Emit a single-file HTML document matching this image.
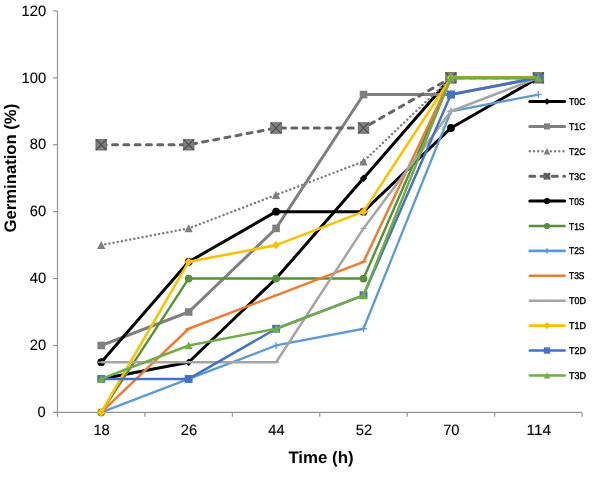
<!DOCTYPE html><html><head><meta charset="utf-8"><style>html,body{margin:0;padding:0;background:#fff;width:598px;height:479px;overflow:hidden}svg{display:block;will-change:transform}text{font-family:"Liberation Sans",sans-serif;text-rendering:geometricPrecision}</style></head><body>
<svg width="598" height="479" viewBox="0 0 598 479">
<rect width="598" height="479" fill="#fff"/>
<g stroke="#959595" stroke-width="1.2" fill="none">
<path d="M57.5 10.9V416.7"/>
<path d="M53.0 412.4H582.1"/>
<path d="M53.0 345.48H57.5"/>
<path d="M53.0 278.57H57.5"/>
<path d="M53.0 211.65H57.5"/>
<path d="M53.0 144.73H57.5"/>
<path d="M53.0 77.82H57.5"/>
<path d="M53.0 10.90H57.5"/>
<path d="M144.93 412.4V416.7"/>
<path d="M232.37 412.4V416.7"/>
<path d="M319.80 412.4V416.7"/>
<path d="M407.23 412.4V416.7"/>
<path d="M494.67 412.4V416.7"/>
<path d="M582.10 412.4V416.7"/>
</g>
<g font-size="15.0" fill="#000" stroke="#000" stroke-width="0.12" text-anchor="end">
<text x="45.60" y="417.10" textLength="8.20" lengthAdjust="spacingAndGlyphs">0</text>
<text x="46.20" y="350.18" textLength="16.40" lengthAdjust="spacingAndGlyphs">20</text>
<text x="46.20" y="283.27" textLength="16.40" lengthAdjust="spacingAndGlyphs">40</text>
<text x="46.20" y="216.35" textLength="16.40" lengthAdjust="spacingAndGlyphs">60</text>
<text x="46.20" y="149.43" textLength="16.40" lengthAdjust="spacingAndGlyphs">80</text>
<text x="46.20" y="82.52" textLength="24.60" lengthAdjust="spacingAndGlyphs">100</text>
<text x="46.20" y="15.60" textLength="24.60" lengthAdjust="spacingAndGlyphs">120</text>
</g>
<g font-size="15.0" fill="#000" stroke="#000" stroke-width="0.12" text-anchor="middle">
<text x="101.62" y="435.3" textLength="16.40" lengthAdjust="spacingAndGlyphs">18</text>
<text x="189.05" y="435.3" textLength="16.40" lengthAdjust="spacingAndGlyphs">26</text>
<text x="276.48" y="435.3" textLength="16.40" lengthAdjust="spacingAndGlyphs">44</text>
<text x="363.92" y="435.3" textLength="16.40" lengthAdjust="spacingAndGlyphs">52</text>
<text x="451.35" y="435.3" textLength="16.40" lengthAdjust="spacingAndGlyphs">70</text>
<text x="538.78" y="435.3" textLength="24.60" lengthAdjust="spacingAndGlyphs">114</text>
</g>
<text x="321.0" y="463.4" font-size="16.6" font-weight="bold" text-anchor="middle" textLength="65.2" lengthAdjust="spacingAndGlyphs">Time (h)</text>
<text transform="translate(15.7 168.1) rotate(-90)" font-size="16.6" font-weight="bold" text-anchor="middle" textLength="128.6" lengthAdjust="spacingAndGlyphs">Germination (%)</text>
<polyline points="101.22,378.94 188.65,362.21 276.08,278.57 363.52,178.19 450.95,77.82 538.38,77.82" fill="none" stroke="#000000" stroke-width="3.0" stroke-linejoin="round"/>
<path d="M101.22 375.19L104.97 378.94L101.22 382.69L97.47 378.94Z" fill="#000000"/>
<path d="M188.65 358.46L192.40 362.21L188.65 365.96L184.90 362.21Z" fill="#000000"/>
<path d="M276.08 274.82L279.83 278.57L276.08 282.32L272.33 278.57Z" fill="#000000"/>
<path d="M363.52 174.44L367.27 178.19L363.52 181.94L359.77 178.19Z" fill="#000000"/>
<path d="M450.95 74.07L454.70 77.82L450.95 81.57L447.20 77.82Z" fill="#000000"/>
<path d="M538.38 74.07L542.13 77.82L538.38 81.57L534.63 77.82Z" fill="#000000"/>
<polyline points="101.22,345.48 188.65,312.02 276.08,228.38 363.52,94.55 450.95,94.55 538.38,77.82" fill="none" stroke="#7f7f7f" stroke-width="3.0" stroke-linejoin="round"/>
<rect x="97.42" y="341.68" width="7.60" height="7.60" fill="#7f7f7f"/>
<rect x="184.85" y="308.22" width="7.60" height="7.60" fill="#7f7f7f"/>
<rect x="272.28" y="224.58" width="7.60" height="7.60" fill="#7f7f7f"/>
<rect x="359.72" y="90.75" width="7.60" height="7.60" fill="#7f7f7f"/>
<rect x="447.15" y="90.75" width="7.60" height="7.60" fill="#7f7f7f"/>
<rect x="534.58" y="74.02" width="7.60" height="7.60" fill="#7f7f7f"/>
<polyline points="101.22,245.11 188.65,228.38 276.08,194.92 363.52,161.46 450.95,77.82 538.38,77.82" fill="none" stroke="#808080" stroke-width="2.5" stroke-linejoin="round" stroke-dasharray="0.01 4.2" stroke-linecap="round"/>
<path d="M101.22 240.91L105.42 249.10L97.02 249.10Z" fill="#7f7f7f"/>
<path d="M188.65 224.18L192.85 232.37L184.45 232.37Z" fill="#7f7f7f"/>
<path d="M276.08 190.72L280.28 198.91L271.88 198.91Z" fill="#7f7f7f"/>
<path d="M363.52 157.26L367.72 165.45L359.32 165.45Z" fill="#7f7f7f"/>
<path d="M450.95 73.62L455.15 81.81L446.75 81.81Z" fill="#7f7f7f"/>
<path d="M538.38 73.62L542.58 81.81L534.18 81.81Z" fill="#7f7f7f"/>
<polyline points="101.22,144.73 188.65,144.73 276.08,128.00 363.52,128.00 450.95,77.82 538.38,77.82" fill="none" stroke="#666666" stroke-width="3.0" stroke-linejoin="round" stroke-dasharray="5.0 6.3" stroke-linecap="round"/>
<rect x="95.92" y="139.43" width="10.60" height="10.60" fill="#7f7f7f" stroke="#6a6a6a" stroke-width="0.8"/><path d="M95.92 139.43L106.52 150.03M106.52 139.43L95.92 150.03" stroke="#4d4d4d" stroke-width="1.2"/>
<rect x="183.35" y="139.43" width="10.60" height="10.60" fill="#7f7f7f" stroke="#6a6a6a" stroke-width="0.8"/><path d="M183.35 139.43L193.95 150.03M193.95 139.43L183.35 150.03" stroke="#4d4d4d" stroke-width="1.2"/>
<rect x="270.78" y="122.70" width="10.60" height="10.60" fill="#7f7f7f" stroke="#6a6a6a" stroke-width="0.8"/><path d="M270.78 122.70L281.38 133.30M281.38 122.70L270.78 133.30" stroke="#4d4d4d" stroke-width="1.2"/>
<rect x="358.22" y="122.70" width="10.60" height="10.60" fill="#7f7f7f" stroke="#6a6a6a" stroke-width="0.8"/><path d="M358.22 122.70L368.82 133.30M368.82 122.70L358.22 133.30" stroke="#4d4d4d" stroke-width="1.2"/>
<rect x="445.65" y="72.52" width="10.60" height="10.60" fill="#7f7f7f" stroke="#6a6a6a" stroke-width="0.8"/><path d="M445.65 72.52L456.25 83.12M456.25 72.52L445.65 83.12" stroke="#4d4d4d" stroke-width="1.2"/>
<rect x="533.08" y="72.52" width="10.60" height="10.60" fill="#7f7f7f" stroke="#6a6a6a" stroke-width="0.8"/><path d="M533.08 72.52L543.68 83.12M543.68 72.52L533.08 83.12" stroke="#4d4d4d" stroke-width="1.2"/>
<polyline points="101.22,362.21 188.65,261.84 276.08,211.65 363.52,211.65 450.95,128.00 538.38,77.82" fill="none" stroke="#000000" stroke-width="3.0" stroke-linejoin="round"/>
<circle cx="101.22" cy="362.21" r="3.90" fill="#000000"/>
<circle cx="188.65" cy="261.84" r="3.90" fill="#000000"/>
<circle cx="276.08" cy="211.65" r="3.90" fill="#000000"/>
<circle cx="363.52" cy="211.65" r="3.90" fill="#000000"/>
<circle cx="450.95" cy="128.00" r="3.90" fill="#000000"/>
<circle cx="538.38" cy="77.82" r="3.90" fill="#000000"/>
<polyline points="101.22,412.40 188.65,278.57 276.08,278.57 363.52,278.57 450.95,77.82 538.38,77.82" fill="none" stroke="#56913a" stroke-width="2.4" stroke-linejoin="round"/>
<circle cx="101.22" cy="412.40" r="3.90" fill="#56913a"/>
<circle cx="188.65" cy="278.57" r="3.90" fill="#56913a"/>
<circle cx="276.08" cy="278.57" r="3.90" fill="#56913a"/>
<circle cx="363.52" cy="278.57" r="3.90" fill="#56913a"/>
<circle cx="450.95" cy="77.82" r="3.90" fill="#56913a"/>
<circle cx="538.38" cy="77.82" r="3.90" fill="#56913a"/>
<polyline points="101.22,412.40 188.65,378.94 276.08,345.48 363.52,328.75 450.95,111.27 538.38,94.55" fill="none" stroke="#5b9bd5" stroke-width="2.3" stroke-linejoin="round"/>
<path d="M97.77 412.40H104.67M101.22 408.95V415.85" stroke="#5b9bd5" stroke-width="1.3"/>
<path d="M185.20 378.94H192.10M188.65 375.49V382.39" stroke="#5b9bd5" stroke-width="1.3"/>
<path d="M272.63 345.48H279.53M276.08 342.03V348.93" stroke="#5b9bd5" stroke-width="1.3"/>
<path d="M360.07 328.75H366.97M363.52 325.30V332.20" stroke="#5b9bd5" stroke-width="1.3"/>
<path d="M447.50 111.27H454.40M450.95 107.82V114.72" stroke="#5b9bd5" stroke-width="1.3"/>
<path d="M534.93 94.55H541.83M538.38 91.10V98.00" stroke="#5b9bd5" stroke-width="1.3"/>
<polyline points="101.22,412.40 188.65,328.75 276.08,295.30 363.52,261.84 450.95,77.82 538.38,77.82" fill="none" stroke="#ed7d31" stroke-width="2.5" stroke-linejoin="round"/>
<path d="M98.22 412.40H104.22" stroke="#ed7d31" stroke-width="1.5"/>
<path d="M185.65 328.75H191.65" stroke="#ed7d31" stroke-width="1.5"/>
<path d="M273.08 295.30H279.08" stroke="#ed7d31" stroke-width="1.5"/>
<path d="M360.52 261.84H366.52" stroke="#ed7d31" stroke-width="1.5"/>
<path d="M447.95 77.82H453.95" stroke="#ed7d31" stroke-width="1.5"/>
<path d="M535.38 77.82H541.38" stroke="#ed7d31" stroke-width="1.5"/>
<polyline points="101.22,362.21 188.65,362.21 276.08,362.21 363.52,228.38 450.95,111.27 538.38,77.82" fill="none" stroke="#a5a5a5" stroke-width="2.5" stroke-linejoin="round"/>
<path d="M98.22 362.21H104.22" stroke="#a5a5a5" stroke-width="1.5"/>
<path d="M185.65 362.21H191.65" stroke="#a5a5a5" stroke-width="1.5"/>
<path d="M273.08 362.21H279.08" stroke="#a5a5a5" stroke-width="1.5"/>
<path d="M360.52 228.38H366.52" stroke="#a5a5a5" stroke-width="1.5"/>
<path d="M447.95 111.27H453.95" stroke="#a5a5a5" stroke-width="1.5"/>
<path d="M535.38 77.82H541.38" stroke="#a5a5a5" stroke-width="1.5"/>
<polyline points="101.22,412.40 188.65,261.84 276.08,245.11 363.52,211.65 450.95,77.82 538.38,77.82" fill="none" stroke="#ffc000" stroke-width="2.6" stroke-linejoin="round"/>
<path d="M101.22 408.25L105.37 412.40L101.22 416.55L97.07 412.40Z" fill="#ffc000"/>
<path d="M188.65 257.69L192.80 261.84L188.65 265.99L184.50 261.84Z" fill="#ffc000"/>
<path d="M276.08 240.96L280.23 245.11L276.08 249.26L271.93 245.11Z" fill="#ffc000"/>
<path d="M363.52 207.50L367.67 211.65L363.52 215.80L359.37 211.65Z" fill="#ffc000"/>
<path d="M450.95 73.67L455.10 77.82L450.95 81.97L446.80 77.82Z" fill="#ffc000"/>
<path d="M538.38 73.67L542.53 77.82L538.38 81.97L534.23 77.82Z" fill="#ffc000"/>
<polyline points="101.22,378.94 188.65,378.94 276.08,328.75 363.52,295.30 450.95,94.55 538.38,77.82" fill="none" stroke="#4472c4" stroke-width="2.5" stroke-linejoin="round"/>
<rect x="97.27" y="374.99" width="7.90" height="7.90" fill="#4472c4"/>
<rect x="184.70" y="374.99" width="7.90" height="7.90" fill="#4472c4"/>
<rect x="272.13" y="324.80" width="7.90" height="7.90" fill="#4472c4"/>
<rect x="359.57" y="291.35" width="7.90" height="7.90" fill="#4472c4"/>
<rect x="447.00" y="90.60" width="7.90" height="7.90" fill="#4472c4"/>
<rect x="534.43" y="73.87" width="7.90" height="7.90" fill="#4472c4"/>
<polyline points="101.22,378.94 188.65,345.48 276.08,328.75 363.52,295.30 450.95,77.82 538.38,77.82" fill="none" stroke="#70ad47" stroke-width="2.5" stroke-linejoin="round"/>
<path d="M101.22 374.94L105.22 382.74L97.22 382.74Z" fill="#70ad47"/>
<path d="M188.65 341.48L192.65 349.28L184.65 349.28Z" fill="#70ad47"/>
<path d="M276.08 324.75L280.08 332.55L272.08 332.55Z" fill="#70ad47"/>
<path d="M363.52 291.30L367.52 299.10L359.52 299.10Z" fill="#70ad47"/>
<path d="M450.95 73.82L454.95 81.62L446.95 81.62Z" fill="#70ad47"/>
<path d="M538.38 73.82L542.38 81.62L534.38 81.62Z" fill="#70ad47"/>
<path d="M529.8 101.50H564.6" stroke="#000000" stroke-width="3.0" fill="none" stroke-linecap="round"/>
<path d="M547.00 98.31L550.19 101.50L547.00 104.69L543.81 101.50Z" fill="#000000"/>
<text x="569.0" y="105.05" font-size="9.9" fill="#000" stroke="#000" stroke-width="0.4" textLength="16.4" lengthAdjust="spacingAndGlyphs">T0C</text>
<path d="M529.8 126.40H564.6" stroke="#7f7f7f" stroke-width="3.0" fill="none" stroke-linecap="round"/>
<rect x="543.96" y="123.36" width="6.08" height="6.08" fill="#7f7f7f"/>
<text x="569.0" y="129.95" font-size="9.9" fill="#000" stroke="#000" stroke-width="0.4" textLength="16.4" lengthAdjust="spacingAndGlyphs">T1C</text>
<path d="M529.8 151.30H564.6" stroke="#808080" stroke-width="2.5" fill="none" stroke-dasharray="0.01 4.2" stroke-linecap="round"/>
<path d="M547.00 147.94L550.36 154.49L543.64 154.49Z" fill="#7f7f7f"/>
<text x="569.0" y="154.85" font-size="9.9" fill="#000" stroke="#000" stroke-width="0.4" textLength="16.4" lengthAdjust="spacingAndGlyphs">T2C</text>
<path d="M529.8 176.20H564.6" stroke="#666666" stroke-width="3.0" fill="none" stroke-dasharray="5.0 6.3" stroke-linecap="round"/>
<rect x="544.05" y="173.25" width="5.90" height="5.90" fill="#7f7f7f" stroke="#6a6a6a" stroke-width="0.8"/><path d="M544.05 173.25L549.95 179.15M549.95 173.25L544.05 179.15" stroke="#4d4d4d" stroke-width="1.2"/>
<text x="569.0" y="179.75" font-size="9.9" fill="#000" stroke="#000" stroke-width="0.4" textLength="16.4" lengthAdjust="spacingAndGlyphs">T3C</text>
<path d="M529.8 201.10H564.6" stroke="#000000" stroke-width="3.0" fill="none" stroke-linecap="round"/>
<circle cx="547.00" cy="201.10" r="3.12" fill="#000000"/>
<text x="569.0" y="204.65" font-size="9.9" fill="#000" stroke="#000" stroke-width="0.4" textLength="15.4" lengthAdjust="spacingAndGlyphs">T0S</text>
<path d="M529.8 226.00H564.6" stroke="#56913a" stroke-width="2.4" fill="none" stroke-linecap="round"/>
<circle cx="547.00" cy="226.00" r="3.12" fill="#56913a"/>
<text x="569.0" y="229.55" font-size="9.9" fill="#000" stroke="#000" stroke-width="0.4" textLength="15.4" lengthAdjust="spacingAndGlyphs">T1S</text>
<path d="M529.8 250.90H564.6" stroke="#5b9bd5" stroke-width="2.8" fill="none" stroke-linecap="round"/>
<path d="M544.10 250.90H549.90M547.00 248.00V253.80" stroke="#5b9bd5" stroke-width="1.3"/>
<text x="569.0" y="254.45" font-size="9.9" fill="#000" stroke="#000" stroke-width="0.4" textLength="15.4" lengthAdjust="spacingAndGlyphs">T2S</text>
<path d="M529.8 275.80H564.6" stroke="#ed7d31" stroke-width="2.5" fill="none" stroke-linecap="round"/>
<path d="M544.60 275.80H549.40" stroke="#ed7d31" stroke-width="1.5"/>
<text x="569.0" y="279.35" font-size="9.9" fill="#000" stroke="#000" stroke-width="0.4" textLength="15.4" lengthAdjust="spacingAndGlyphs">T3S</text>
<path d="M529.8 300.70H564.6" stroke="#a5a5a5" stroke-width="2.5" fill="none" stroke-linecap="round"/>
<path d="M544.60 300.70H549.40" stroke="#a5a5a5" stroke-width="1.5"/>
<text x="569.0" y="304.25" font-size="9.9" fill="#000" stroke="#000" stroke-width="0.4" textLength="16.9" lengthAdjust="spacingAndGlyphs">T0D</text>
<path d="M529.8 325.60H564.6" stroke="#ffc000" stroke-width="2.6" fill="none" stroke-linecap="round"/>
<path d="M547.00 322.07L550.53 325.60L547.00 329.13L543.47 325.60Z" fill="#ffc000"/>
<text x="569.0" y="329.15" font-size="9.9" fill="#000" stroke="#000" stroke-width="0.4" textLength="16.9" lengthAdjust="spacingAndGlyphs">T1D</text>
<path d="M529.8 350.50H564.6" stroke="#4472c4" stroke-width="2.5" fill="none" stroke-linecap="round"/>
<rect x="543.84" y="347.34" width="6.32" height="6.32" fill="#4472c4"/>
<text x="569.0" y="354.05" font-size="9.9" fill="#000" stroke="#000" stroke-width="0.4" textLength="16.9" lengthAdjust="spacingAndGlyphs">T2D</text>
<path d="M529.8 375.40H564.6" stroke="#70ad47" stroke-width="2.5" fill="none" stroke-linecap="round"/>
<path d="M547.00 372.20L550.20 378.44L543.80 378.44Z" fill="#70ad47"/>
<text x="569.0" y="378.95" font-size="9.9" fill="#000" stroke="#000" stroke-width="0.4" textLength="16.9" lengthAdjust="spacingAndGlyphs">T3D</text>
</svg></body></html>
